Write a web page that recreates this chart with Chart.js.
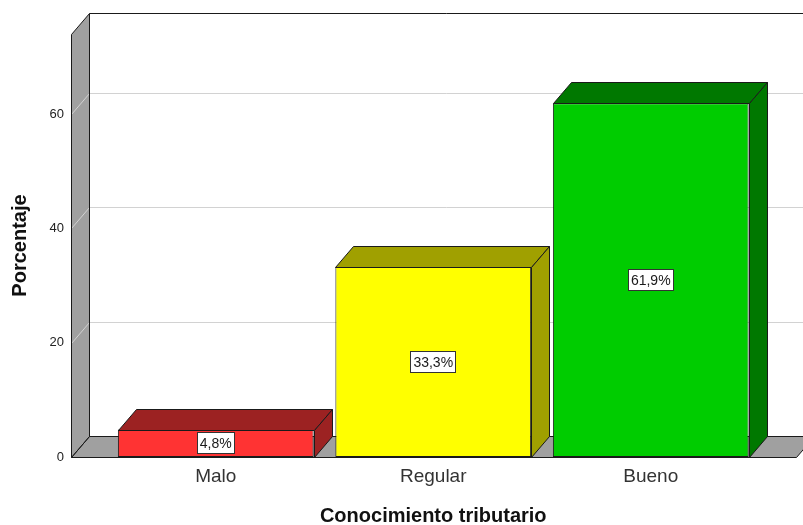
<!DOCTYPE html>
<html>
<head>
<meta charset="utf-8">
<title>Conocimiento tributario</title>
<script src="https://cdn.jsdelivr.net/npm/chart.js@4.4.1/dist/chart.umd.min.js"></script>
<style>
  html, body { margin: 0; padding: 0; background: #ffffff; }
  #caja { width: 803px; height: 525px; }
</style>
</head>
<body>
<div id="caja"><canvas id="grafico" width="803" height="525"></canvas></div>
<script>
// datos del grafico
const categorias = ['Malo', 'Regular', 'Bueno'];
const porcentajes = [4.8, 33.3, 61.9];
const marcasY = [0, 20, 40, 60];
const maximoY = 74;

// colores de las barras (cara frontal / caras superior y lateral)
const colorFrente = ['#ff3333', '#ffff00', '#00cc00'];
const colorCara = ['#9c2222', '#a0a000', '#007800'];

// profundidad del efecto 3D
const DX = 18, DY = -21;
const FUENTE = '"Liberation Sans", Arial, sans-serif';

const px = v => Math.round(v) + 0.5;

function poligono(ctx, puntos, relleno, borde) {
    ctx.beginPath();
    puntos.forEach((p, i) => i === 0 ? ctx.moveTo(p[0], p[1]) : ctx.lineTo(p[0], p[1]));
    ctx.closePath();
    if (relleno) { ctx.fillStyle = relleno; ctx.fill(); }
    if (borde) { ctx.strokeStyle = borde; ctx.stroke(); }
}

// paredes, piso y cuadricula detras de las barras
const fondo3D = {
    id: 'fondo3D',
    beforeDatasetsDraw(chart) {
        const { ctx, chartArea: a, scales } = chart;
        const ext = (a.right - a.left) / categorias.length / 6;
        const L = px(a.left - ext), R = px(a.right + ext), T = px(a.top), B = px(a.bottom);
        ctx.save();
        ctx.lineWidth = 1;

        // rellenos grises
        poligono(ctx, [[L, B], [L, T], [L + DX, T + DY], [L + DX, B + DY]], '#a0a0a0');
        poligono(ctx, [[L, B], [R, B], [R + DX, B + DY], [L + DX, B + DY]], '#a0a0a0');

        // lineas de cuadricula (pared izquierda + pared del fondo)
        marcasY.forEach(v => {
            if (v === 0) return;
            const py = px(scales.y.getPixelForValue(v));
            ctx.strokeStyle = '#d2d2d2';
            ctx.beginPath();
            ctx.moveTo(L, py);
            ctx.lineTo(L + DX, py + DY);
            ctx.lineTo(R + DX + 40, py + DY);
            ctx.stroke();
        });

        // contornos
        poligono(ctx, [[L, B], [L, T], [L + DX, T + DY], [L + DX, B + DY]], null, '#1a1a1a');
        poligono(ctx, [[L, B], [R, B], [R + DX, B + DY], [L + DX, B + DY]], null, '#1a1a1a');
        ctx.strokeStyle = '#1a1a1a';
        ctx.beginPath();
        ctx.moveTo(L + DX, T + DY);
        ctx.lineTo(R + DX + 40, T + DY);
        ctx.stroke();
        ctx.restore();
    }
};

// caras superior y lateral de cada barra + etiqueta de porcentaje
const barras3D = {
    id: 'barras3D',
    afterDatasetsDraw(chart) {
        const { ctx } = chart;
        const meta = chart.getDatasetMeta(0);
        ctx.save();
        ctx.lineWidth = 1;
        meta.data.forEach((barra, i) => {
            const { x, y, base, width } = barra.getProps(['x', 'y', 'base', 'width'], true);
            const l = px(x - width / 2), r = px(x + width / 2), t = px(y), b = px(base);
            poligono(ctx, [[l, t], [l + DX, t + DY], [r + DX, t + DY], [r, t]], colorCara[i], '#1a1a1a');
            poligono(ctx, [[r, t], [r + DX, t + DY], [r + DX, b + DY], [r, b]], colorCara[i], '#1a1a1a');

            // etiqueta
            const texto = porcentajes[i].toFixed(1).replace('.', ',') + '%';
            ctx.font = '14px ' + FUENTE;
            const w = Math.round(ctx.measureText(texto).width + 6);
            const h = 22;
            const cy = (y + base) / 2;
            const bx = Math.round(x - w / 2), by = Math.round(cy - h / 2);
            ctx.fillStyle = '#ffffff';
            ctx.fillRect(bx, by, w, h);
            ctx.strokeStyle = '#333333';
            ctx.strokeRect(bx + 0.5, by + 0.5, w - 1, h - 1);
            ctx.fillStyle = '#1a1a1a';
            ctx.textAlign = 'center';
            ctx.textBaseline = 'middle';
            ctx.fillText(texto, x, cy + 1);
        });
        ctx.restore();
    }
};

const ctx = document.getElementById('grafico').getContext('2d');
new Chart(ctx, {
    type: 'bar',
    data: {
        labels: categorias,
        datasets: [{
            label: 'Porcentaje',
            data: porcentajes,
            backgroundColor: colorFrente,
            borderColor: '#1a1a1a',
            borderWidth: 1,
            borderSkipped: false,
            categoryPercentage: 0.9,
            barPercentage: 1.0
        }]
    },
    options: {
        responsive: false,
        animation: false,
        layout: { padding: { top: 34, right: 43.5, left: 0, bottom: 0 } },
        plugins: {
            legend: { display: false },
            tooltip: { enabled: false }
        },
        scales: {
            x: {
                grid: { display: false, drawTicks: false },
                border: { display: false },
                ticks: {
                    padding: 8,
                    color: '#333333',
                    font: { family: FUENTE, size: 19 }
                },
                title: {
                    display: true,
                    text: 'Conocimiento tributario',
                    color: '#111111',
                    font: { family: FUENTE, size: 20, weight: 'bold', lineHeight: 0.9 },
                    padding: 0
                },
                afterFit: s => { s.height = 68; s.paddingLeft = 0; s.paddingRight = 0; }
            },
            y: {
                min: 0,
                max: maximoY,
                grid: { display: false, drawTicks: false },
                border: { display: false },
                afterBuildTicks: s => { s.ticks = marcasY.map(v => ({ value: v })); },
                ticks: {
                    padding: 43,
                    color: '#222222',
                    font: { family: FUENTE, size: 13 }
                },
                title: {
                    display: true,
                    text: 'Porcentaje',
                    color: '#111111',
                    font: { family: FUENTE, size: 20, weight: 'bold', lineHeight: 1.2 },
                    padding: { top: 8, bottom: 0 }
                },
                afterFit: s => { s.width = 107; s.paddingTop = 0; s.paddingBottom = 0; }
            }
        }
    },
    plugins: [fondo3D, barras3D]
});
</script>
</body>
</html>
